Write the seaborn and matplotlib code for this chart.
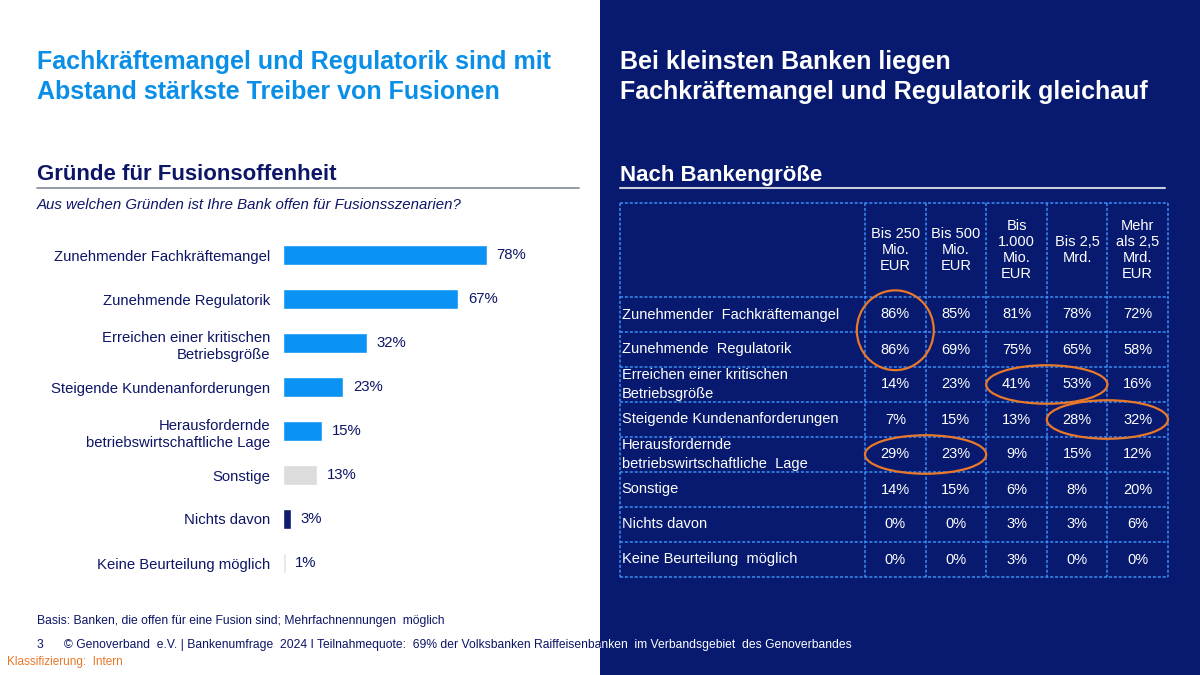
import matplotlib
matplotlib.use("Agg")
import matplotlib.pyplot as plt
from matplotlib.patches import Rectangle, Ellipse
from matplotlib.lines import Line2D
from matplotlib.colors import ListedColormap
from matplotlib.transforms import Bbox, TransformedBbox
import seaborn as sns
import pandas as pd
import numpy as np

# --- data ---------------------------------------------------------------
reasons = ["Zunehmender Fachkräftemangel", "Zunehmende Regulatorik",
           "Erreichen einer kritischen\nBetriebsgröße", "Steigende Kundenanforderungen",
           "Herausfordernde\nbetriebswirtschaftliche Lage", "Sonstige",
           "Nichts davon", "Keine Beurteilung möglich"]
overall = [78, 67, 32, 23, 15, 13, 3, 1]

table_rows = ["Zunehmender  Fachkräftemangel", "Zunehmende  Regulatorik",
              "Erreichen einer kritischen\nBetriebsgröße", "Steigende Kundenanforderungen",
              "Herausfordernde\nbetriebswirtschaftliche  Lage", "Sonstige",
              "Nichts davon", "Keine Beurteilung  möglich"]
size_classes = ["Bis 250\nMio.\nEUR", "Bis 500\nMio.\nEUR", "Bis\n1.000\nMio.\nEUR",
                "Bis 2,5\nMrd.", "Mehr\nals 2,5\nMrd.\nEUR"]
bis_250 = [86, 86, 14, 7, 29, 14, 0, 0]
bis_500 = [85, 69, 23, 15, 23, 15, 0, 0]
bis_1000 = [81, 75, 41, 13, 9, 6, 3, 3]
bis_2_5 = [78, 65, 53, 28, 15, 8, 3, 0]
mehr_2_5 = [72, 58, 16, 32, 12, 20, 6, 0]

# highlighted cells: (first row, last row), (first col, last col)
highlights = [((0, 1), (0, 0)), ((2, 2), (2, 3)), ((3, 3), (3, 4)), ((4, 4), (0, 1))]

# --- styles -------------------------------------------------------------
BLUE = "#0A93F2"
TITLE_BLUE = "#0A8FE8"
NAVY = "#0D1566"
BG = "#071A6F"
GRID = "#3A8EF5"
ORANGE = "#E8782A"
bar_colors = [BLUE] * 5 + ["#DCDCDC", "#0D1A6E", "#E4E4E4"]

sns.set_theme(style="white")
plt.rcParams["font.family"] = ["Liberation Sans", "DejaVu Sans"]

fig = plt.figure(figsize=(12, 6.75), dpi=100)
fig.patch.set_facecolor("white")
fig.patches.append(Rectangle((0.5, 0), 0.5, 1, transform=fig.transFigure,
                             facecolor=BG, edgecolor="none", zorder=-10))

def px(x, y):
    return x / 1200, 1 - y / 675

# --- left side titles ---
fig.text(*px(37, 62), "Fachkräftemangel und Regulatorik sind mit", color=TITLE_BLUE,
         fontsize=18, fontweight="bold", va="center")
fig.text(*px(37, 92), "Abstand stärkste Treiber von Fusionen", color=TITLE_BLUE,
         fontsize=18, fontweight="bold", va="center")
fig.text(*px(37, 175), "Gründe für Fusionsoffenheit", color=NAVY,
         fontsize=16, fontweight="bold", va="center")
fig.lines.append(Line2D([37 / 1200, 579 / 1200], [1 - 188 / 675] * 2,
                        transform=fig.transFigure, color="#8C90A0", lw=1.3))
fig.text(*px(37, 205), "Aus welchen Gründen ist Ihre Bank offen für Fusionsszenarien?",
         color=NAVY, fontsize=10.8, style="italic", va="center")

# --- bar chart ---
ax = fig.add_axes([283 / 1200, 1 - 585 / 675, 261.5 / 1200, 352 / 675])
df = pd.DataFrame({"reason": reasons, "share": overall})
sns.barplot(data=df, x="share", y="reason", hue="reason", palette=bar_colors,
            legend=False, width=0.45, ax=ax, saturation=1)
ax.set_xlim(0, 100)
ax.set_ylim(7.5, -0.5)
for cont, v in zip(ax.containers, overall):
    ax.bar_label(cont, labels=[f"{v}%"], padding=7, fontsize=10.7, color=NAVY)
ax.set_xlabel("")
ax.set_ylabel("")
ax.set_xticks([])
for s in ax.spines.values():
    s.set_visible(False)
ax.tick_params(axis="y", length=0, pad=9, labelsize=10.7, labelcolor=NAVY)
for lab in ax.get_yticklabels():
    lab.set_linespacing(1.35)
ax.patch.set_alpha(0)

# --- right side titles ---
fig.text(*px(620, 62), "Bei kleinsten Banken liegen", color="white",
         fontsize=18, fontweight="bold", va="center")
fig.text(*px(620, 92), "Fachkräftemangel und Regulatorik gleichauf", color="white",
         fontsize=18, fontweight="bold", va="center")
fig.text(*px(620, 175), "Nach Bankengröße", color="white",
         fontsize=16, fontweight="bold", va="center")
fig.lines.append(Line2D([620 / 1200, 1165 / 1200], [1 - 188 / 675] * 2,
                        transform=fig.transFigure, color="#C9CCDA", lw=1.5))

# --- table (heatmap) ---
label_w = 245 / 60.6
header_h = 94 / 35
tab = pd.DataFrame({"a": bis_250, "b": bis_500, "c": bis_1000, "d": bis_2_5, "e": mehr_2_5})
annot = tab.map(lambda v: f"{v}%").values
axt = fig.add_axes([620 / 1200, 1 - 577 / 675, 548 / 1200, 374 / 675])
sns.heatmap(tab, cmap=ListedColormap([BG]), annot=annot, fmt="", cbar=False,
            xticklabels=False, yticklabels=False, ax=axt,
            annot_kws=dict(color="white", fontsize=10.5))
axt.set_xlim(-label_w, 5)
axt.set_ylim(8, -header_h)
axt.axis("off")

nrow, ncol = tab.shape
axt.vlines(np.r_[-label_w, np.arange(ncol + 1)], -header_h, nrow, colors=GRID,
           linestyles=(0, (2, 1.2)), lw=1.1, clip_on=False)
axt.hlines(np.r_[-header_h, np.arange(nrow + 1)], -label_w, ncol, colors=GRID,
           linestyles=(0, (2, 1.2)), lw=1.1, clip_on=False)
for j, h in enumerate(size_classes):
    axt.text(j + 0.5, -header_h / 2, h, ha="center", va="center", color="white",
             fontsize=10.5, linespacing=1.2)
for i, r in enumerate(table_rows):
    axt.text(-label_w + 0.03, i + 0.5, r, ha="left", va="center", color="white",
             fontsize=10.5, linespacing=1.4)

for (r0, r1), (c0, c1) in highlights:
    nr, nc = r1 - r0 + 1, c1 - c0 + 1
    w = nc + 0.27 if nc == 1 else nc
    h = nr + 0.28 if nr > 1 else 1.1
    axt.add_patch(Ellipse(((c0 + c1 + 1) / 2, (r0 + r1 + 1) / 2 - (0.05 if nr > 1 else 0)),
                          w, h, facecolor="none", edgecolor=ORANGE, lw=1.6,
                          clip_on=False, zorder=5))

# --- footer ---
fig.text(*px(37, 621), "Basis: Banken, die offen für eine Fusion sind; Mehrfachnennungen  möglich",
         color=NAVY, fontsize=8.75, va="center")
foot = ("3      © Genoverband  e.V. | Bankenumfrage  2024 I Teilnahmequote:  69% der "
        "Volksbanken Raiffeisenbanken  im Verbandsgebiet  des Genoverbandes")
for col, box in ((NAVY, [[0, 0], [0.5, 1]]), ("white", [[0.5, 0], [1, 1]])):
    t = fig.text(*px(37, 645), foot, color=col, fontsize=8.75, va="center")
    t.set_clip_box(TransformedBbox(Bbox(box), fig.transFigure))
    t.set_clip_on(True)
fig.text(*px(7, 662), "Klassifizierung:  Intern", color=ORANGE, fontsize=8.5, va="center")

fig.savefig("out.png", dpi=100)
